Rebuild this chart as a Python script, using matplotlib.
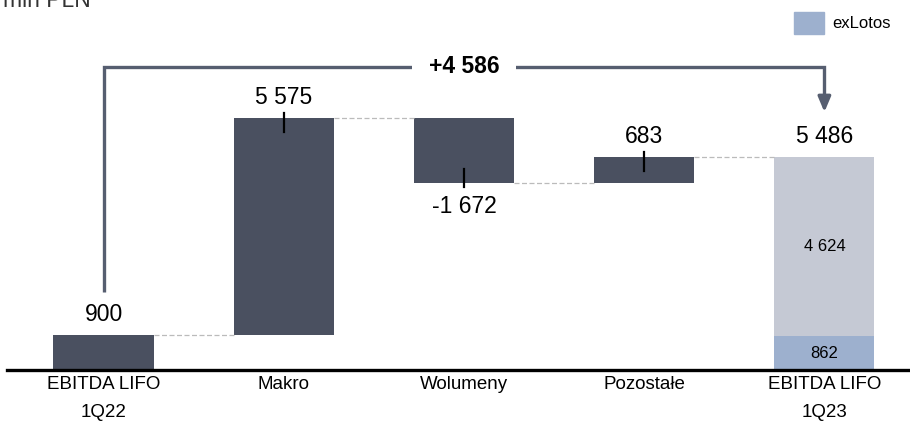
import matplotlib.pyplot as plt
from matplotlib.patches import Rectangle
import numpy as np

plt.rcParams['font.family'] = ['Liberation Sans', 'DejaVu Sans']

# data (mln PLN)
categories = ['EBITDA LIFO\n1Q22', 'Makro', 'Wolumeny', 'Pozostałe', 'EBITDA LIFO\n1Q23']
start_value = 900
deltas = [5575, -1672, 683]
end_parts = [862, 4624]          # exLotos, rest
end_parts_labels = ['862', '4 624']
total_change = 4586

DARK = '#4A5060'
LIGHT = '#C5C9D4'
EXLOTOS = '#9DB0CE'
BRACKET = '#565E70'


def fmt(v):
    return f"{v:,}".replace(',', ' ')


fig = plt.figure(figsize=(9.1, 4.32), dpi=100)
ax = fig.add_axes([7 / 910, 62 / 432, 903 / 910, 370 / 432])
ax.set_xlim(-0.536, 4.475)
ax.set_ylim(0, 9512)
px = 9512 / 370  # data units per pixel

w = 0.556
x = np.arange(len(categories))

# first bar
ax.bar(x[0], start_value, width=w, color=DARK)
ax.text(x[0], start_value + 9 * px, fmt(start_value), ha='center', va='bottom', fontsize=16.5)

# delta bars
level = start_value
for i, d in enumerate(deltas, start=1):
    bottom = level if d > 0 else level + d
    ax.bar(x[i], abs(d), bottom=bottom, width=w, color=DARK)
    # connector from previous bar
    ax.plot([x[i - 1] + w / 2, x[i] - w / 2], [level, level], color='#BBBBBB', lw=0.9, ls=(0, (4, 2)))
    new_level = level + d
    if d > 0:
        ax.plot([x[i], x[i]], [new_level + 5 * px, new_level - 14 * px], color='black', lw=1.6)
        ax.text(x[i], new_level + 9 * px, fmt(d), ha='center', va='bottom', fontsize=16.5)
    else:
        ax.plot([x[i], x[i]], [new_level - 4 * px, new_level + 14 * px], color='black', lw=1.6)
        ax.text(x[i], new_level - 12 * px, fmt(d), ha='center', va='top', fontsize=16.5)
    level = new_level

end_total = sum(end_parts)
ax.plot([x[3] + w / 2, x[4] - w / 2], [level, level], color='#BBBBBB', lw=0.9, ls=(0, (4, 2)))

# final stacked bar
ax.bar(x[4], end_parts[0], width=w, color=EXLOTOS)
ax.bar(x[4], end_parts[1], bottom=end_parts[0], width=w, color=LIGHT)
ax.text(x[4], end_parts[0] / 2, end_parts_labels[0], ha='center', va='center', fontsize=12)
ax.text(x[4], end_parts[0] + end_parts[1] / 2, end_parts_labels[1], ha='center', va='center', fontsize=12)
ax.text(x[4], end_total + 9 * px, fmt(end_total), ha='center', va='bottom', fontsize=16.5)

# bracket with total change
yb = 7790
ax.plot([x[0], x[0], x[4], x[4]], [start_value + 1110, yb, yb, end_total + 1500],
        color=BRACKET, lw=2.4, solid_joinstyle='miter', solid_capstyle='butt')
ax.annotate('', xy=(x[4], end_total + 1145), xytext=(x[4], end_total + 1600),
            arrowprops=dict(arrowstyle='-|>,head_length=0.9,head_width=0.38', color=BRACKET, lw=2.4,
                            shrinkA=0, shrinkB=0))
ax.text(x[2], yb, '+' + fmt(total_change), ha='center', va='center', fontsize=16.5, fontweight='bold',
        bbox=dict(facecolor='white', edgecolor='none', pad=12))

# axes styling
for s in ['top', 'right', 'left']:
    ax.spines[s].set_visible(False)
ax.spines['bottom'].set_linewidth(2.4)
ax.spines['bottom'].set_color('black')
ax.set_yticks([])
ax.set_xticks(x)
ax.set_xticklabels(categories, fontsize=13.5)
for lab in ax.get_xticklabels():
    lab.set_linespacing(1.85)
ax.tick_params(axis='x', length=0, pad=4)

# unit label (partly outside the figure, as in the source)
fig.text(0.003, 425 / 432, 'mln PLN', fontsize=16.5, va='baseline', ha='left', color='#333333')

# legend
fig.patches.append(Rectangle((794 / 910, 1 - 34 / 432), 30 / 910, 22 / 432,
                             transform=fig.transFigure, color=EXLOTOS))
fig.text(832 / 910, 1 - 23 / 432, 'exLotos', fontsize=12, va='center', ha='left')

fig.savefig('out.png', dpi=100)
